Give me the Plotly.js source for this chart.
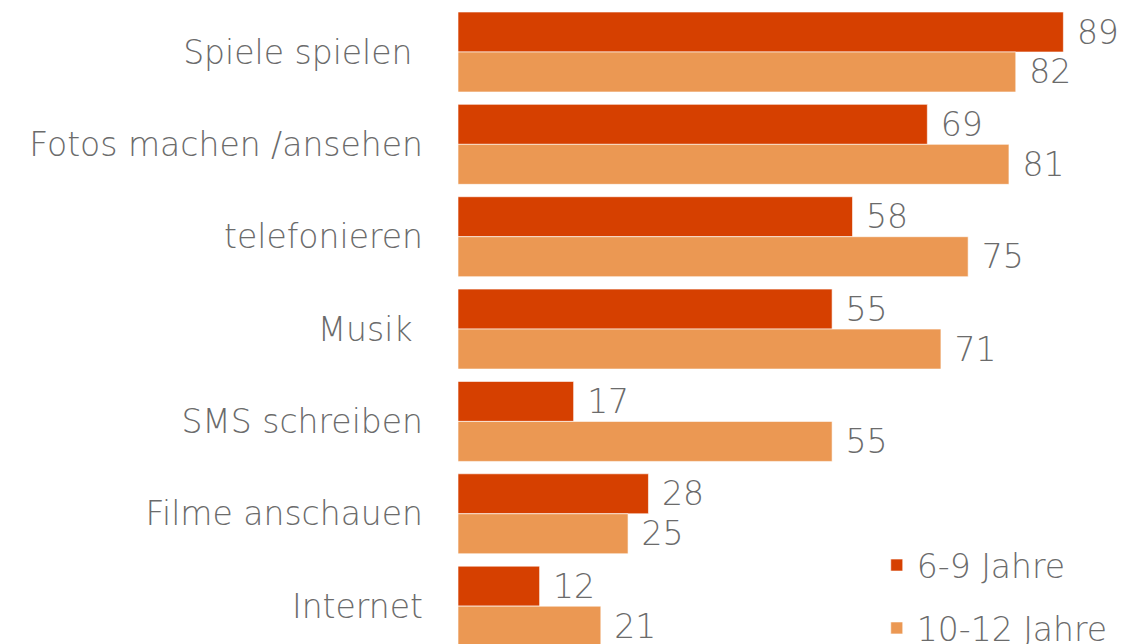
<!DOCTYPE html>
<html>
<head>
<meta charset="utf-8">
<script src="https://cdn.plot.ly/plotly-3.0.1.min.js"></script>
<style>
  html, body { margin: 0; padding: 0; background: #fff; }
  #chart { width: 1128px; height: 644px; }
</style>
</head>
<body>
<div id="chart"></div>
<script>
// Tätigkeiten mit dem Smartphone, Anteil in Prozent
var kategorien = ['Spiele spielen\u00a0', 'Fotos machen /ansehen', 'telefonieren', 'Musik\u00a0', 'SMS schreiben', 'Filme anschauen', 'Internet'];
var werte6bis9 = [89, 69, 58, 55, 17, 28, 12];
var werte10bis12 = [82, 81, 75, 71, 55, 25, 21];

var schrift = { family: '"DejaVu Sans", sans-serif', size: 33, color: '#6b6b6b', weight: 300 };

function serie(name, werte, farbe, gruppe) {
    return {
        type: 'bar',
        orientation: 'h',
        name: name,
        x: werte,
        y: kategorien,
        text: werte.map(function (v) { return '\u00a0' + v; }),
        textposition: 'outside',
        textfont: schrift,
        constraintext: 'none',
        cliponaxis: false,
        legendgroup: gruppe,
        hoverinfo: 'skip',
        marker: { color: farbe, line: { color: 'rgba(255,255,255,0.6)', width: 1 } }
    };
}

var data = [
    serie('6-9 Jahre', werte6bis9, '#d64000', 'a'),
    serie('10-12 Jahre', werte10bis12, '#eb9853', 'b')
];

var layout = {
    width: 1128,
    height: 644,
    margin: { l: 458, r: 0, t: 0, b: 0, autoexpand: false },
    paper_bgcolor: '#ffffff',
    plot_bgcolor: '#ffffff',
    font: schrift,
    barmode: 'group',
    bargap: 0.134,
    bargroupgap: 0,
    xaxis: { range: [0, 98.5], visible: false, fixedrange: true },
    yaxis: {
        type: 'category',
        range: [6.41, -0.563],
        showgrid: false,
        zeroline: false,
        showline: false,
        ticks: '',
        ticklabelstandoff: 34,
        tickfont: schrift,
        fixedrange: true
    },
    showlegend: true,
    legend: {
        x: 0.625,
        y: 0.166,
        xanchor: 'left',
        yanchor: 'top',
        traceorder: 'grouped',
        tracegroupgap: 17,
        bgcolor: 'rgba(0,0,0,0)',
        font: schrift
    }
};

Plotly.newPlot('chart', data, layout, { displayModeBar: false, staticPlot: true });
</script>
</body>
</html>
